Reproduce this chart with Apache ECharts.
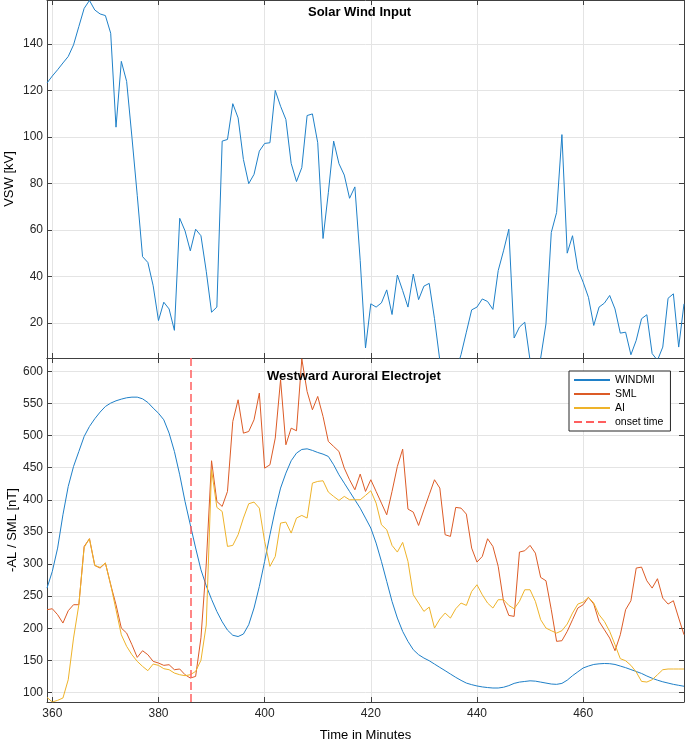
<!DOCTYPE html>
<html><head><meta charset="utf-8">
<script src="https://cdn.jsdelivr.net/npm/echarts@6/dist/echarts.min.js"></script>
<style>html,body{margin:0;padding:0;background:#fff}#c{width:685px;height:744px}</style>
</head><body><div id="c"></div>
<script>
// ---- data ----
const startMinute = 359; // first sample (minutes)
const vsw = [
123.3,126.3,129,131.9,134.7,139.7,147.6,155.4,158.8,154.7,
153,152.3,144.7,104.3,132.6,124,100,75,48.6,46.1,
36.1,21.1,29,26.1,16.9,65.1,59.7,51.1,60.4,57.6,
42.3,24.7,26.9,98.3,99,114.4,108.3,90.4,80,84,
94,97.3,97.6,120.1,113.3,107.6,88.7,80.9,86.9,109.3,
110,97.6,56.4,76.1,98.3,88.6,83.7,73.7,78.6,47,
9.3,28.3,26.9,28.7,34.3,23.7,40.7,34,26.9,41.1,
30.1,35.9,37.1,21.9,4,-2,-4,-1,6.5,16.1,
25.7,26.9,30.4,29.3,25.9,42.6,51.1,60.4,13.6,18.3,
20.4,4,0,5,19.7,59,67.6,101.1,50.1,57.6,
43.3,37.6,31.1,19,26.9,28.6,31.9,26.1,15.7,16.1,
6.4,12.6,21.9,23.6,6.9,4,9.7,30.7,32.6,9.7,
28.3];
const windmi = [
262.5,288.5,324.8,376.7,420.9,452,475.4,498.8,514.3,526.3,
536.7,545.5,550.7,554.3,556.9,559,560,560,557.4,551.7,
542.9,535,524.7,504,475.4,439,397.5,361,325,291,
266,245,226,210,197,189,187,190.9,205.4,231.4,
265.1,304.1,345.6,384.5,418.3,441.6,460.9,472.8,478.5,479.5,
477,473.8,471.2,467.6,454.6,439,426,413,400,387,
371.6,356,332.6,304,272.9,241.7,215.8,195,179.4,166.5,
158.7,153.5,149.3,144.1,138.9,133.8,128.6,123.4,118.7,114.5,
112,110,108.5,107.5,106.8,106.8,108,110.5,114,116,
117,118,117.5,116,114.5,113,112.5,114,119,126,
132,138,141,143.5,144.5,145,144.7,143.5,141,138.5,
135.5,132.5,129.5,125.5,122,119,116.5,114.5,112.5,111,
109.5];
const sml = [
228.8,230.3,221,208,227.2,236.6,236.6,327.4,339.4,297.8,
293.7,301.5,267.7,236.6,200.2,192.4,174.3,154.5,164.9,158.7,
148.3,145.7,142.1,143.1,135.3,136.4,127.5,122.3,124.9,185,
300,460.9,397.5,389.7,413.1,522.1,555.9,503.9,506.5,524.7,
566.3,449.4,454.6,496.2,587,485.8,511.7,507.6,619.7,568.8,
540.3,561.1,529.9,491,483.2,475.4,449.4,431.3,415.7,440.1,
413.1,431.3,413.1,394.9,376.7,413.1,452,479,385.6,380.9,
360.1,384.5,407.9,431.3,418.3,345.6,343,388.2,387.1,377.8,
324.8,303,311.8,339.4,327.4,296.3,241.8,219.9,218.4,318.6,
320.7,329,317,279.1,273.9,228.8,179.5,180.5,195,213.2,
231.4,236.6,248,237.6,210.6,197.6,184.6,164.9,189.8,228.8,
242.8,293.7,295.2,273.9,262.5,277.1,246.9,237.6,242.8,215.8,
189.8];
const ai = [
92.2,85,87.6,91.2,119.7,184.6,236.6,325.9,339.4,297.8,
294.7,301.5,267.7,228.8,189.8,171.7,158.7,148.3,140.5,133.8,
144.1,142.1,136.9,135.3,130.1,127.5,126,127.5,132.7,150,
205,447,388.2,381.9,327.4,329,345.6,371.6,393.9,396.5,
387.1,335.2,296.3,311.8,363.8,365.3,348.2,371.6,375.7,371.6,
426.1,428.7,429.7,412.1,405.3,399.1,405.3,400.1,400.1,400.1,
406.9,414.1,394.9,361.2,353.4,329,318.6,333.7,304.1,252.1,
239.2,226.2,232.9,200.2,214.2,223.6,215.8,230.3,239.2,235.5,
257.3,267.7,252.1,239.2,231.4,244.4,244.4,235.5,230.3,241.8,
259.9,259.9,241.8,213.2,200.2,196.1,192.4,196.1,206.5,223.6,
237.6,240.7,248,239.2,221,210.6,195,174.3,152.5,149.3,
142.1,131.7,117.1,116.1,119.7,127.5,135.3,136.4,136.4,136.4,
136.4];
const onsetTime = 386;
const xTicks = [360, 380, 400, 420, 440, 460];
const vswTicks = [20, 40, 60, 80, 100, 120, 140];
const alTicks = [100, 150, 200, 250, 300, 350, 400, 450, 500, 550, 600];
const xRange = [359, 479];
const vswRange = [5, 159];
const alRange = [85, 621];
const legendNames = ['WINDMI', 'SML', 'AI', 'onset time'];

// ---- build ----
const minutes = vsw.map((_, i) => startMinute + i);
const pair = arr => arr.map((v, i) => [minutes[i], v]);
const FONT = '"Liberation Sans", Arial, Helvetica, sans-serif';
const AXC = '#404040', GRIDC = '#e4e4e4';
const BLUE = '#1f80c8', ORANGE = '#dc5b26', YELLOW = '#eeb32a', RED = '#ff5f5f';

function xAxisCfg(grid, pos, main, labels, name) {
  return {
    type: 'value', gridIndex: grid, position: pos, min: xRange[0], max: xRange[1], splitNumber: 6,
    axisLine: { show: true, onZero: false, lineStyle: { color: AXC, width: 1 } },
    axisTick: { show: true, inside: true, length: 5, customValues: xTicks, lineStyle: { color: AXC } },
    axisLabel: { show: labels, customValues: xTicks, margin: 6, fontSize: 12, color: '#262626', fontFamily: FONT },
    splitLine: { show: main, lineStyle: { color: GRIDC, width: 1 } },
    name: name || '', nameLocation: 'middle', nameGap: 27, nameMoveOverlap: false,
    nameTextStyle: { fontSize: 13, color: '#000', fontFamily: FONT }
  };
}
function yAxisCfg(grid, pos, main, range, ticks, split, name, gap) {
  return {
    type: 'value', gridIndex: grid, position: pos, min: range[0], max: range[1], splitNumber: split,
    axisLine: { show: true, onZero: false, lineStyle: { color: AXC, width: 1 } },
    axisTick: { show: true, inside: true, length: 5, customValues: ticks, lineStyle: { color: AXC } },
    axisLabel: { show: main, customValues: ticks, margin: 4, fontSize: 12, color: '#262626', fontFamily: FONT },
    splitLine: { show: main, lineStyle: { color: GRIDC, width: 1 } },
    name: name || '', nameLocation: 'middle', nameGap: gap || 25, nameMoveOverlap: false,
    nameTextStyle: { fontSize: 13, color: '#000', fontFamily: FONT }
  };
}

const chart = echarts.init(document.getElementById('c'), null, { renderer: 'canvas' });
chart.setOption({
  animation: false,
  backgroundColor: '#fff',
  title: [
    { text: 'Solar Wind Input', left: 308, top: 6, padding: 0,
      textStyle: { fontSize: 13, fontWeight: 'bold', color: '#000', fontFamily: FONT } },
    { text: 'Westward Auroral Electrojet', left: 267, top: 370, padding: 0,
      textStyle: { fontSize: 13, fontWeight: 'bold', color: '#000', fontFamily: FONT } }
  ],
  grid: [
    { left: 47, top: 0, width: 637, height: 358, containLabel: false, outerBoundsMode: 'none' },
    { left: 47, top: 358, width: 637, height: 344, containLabel: false, outerBoundsMode: 'none' }
  ],
  xAxis: [
    xAxisCfg(0, 'bottom', true, false),
    xAxisCfg(0, 'top', false, false),
    xAxisCfg(1, 'bottom', true, true, 'Time in Minutes'),
    xAxisCfg(1, 'top', false, false)
  ],
  yAxis: [
    yAxisCfg(0, 'left', true, vswRange, vswTicks, 8, 'VSW [kV]', 31),
    yAxisCfg(0, 'right', false, vswRange, vswTicks, 8),
    yAxisCfg(1, 'left', true, alRange, alTicks, 11, '-AL / SML [nT]', 28),
    yAxisCfg(1, 'right', false, alRange, alTicks, 11)
  ],
  legend: {
    orient: 'vertical', left: 569, top: 371, padding: [3, 7, 3, 4],
    itemWidth: 36, itemHeight: 10, itemGap: 2,
    borderColor: '#262626', borderWidth: 1, backgroundColor: '#fff',
    itemStyle: { opacity: 0 },
    textStyle: { fontSize: 10.5, lineHeight: 12, color: '#000', fontFamily: FONT },
    data: legendNames
  },
  series: [
    { name: 'VSW', type: 'line', xAxisIndex: 0, yAxisIndex: 0, data: pair(vsw), symbol: 'none',
      lineStyle: { color: BLUE, width: 1 }, itemStyle: { color: BLUE } },
    { name: legendNames[0], type: 'line', xAxisIndex: 2, yAxisIndex: 2, data: pair(windmi), symbol: 'none',
      lineStyle: { color: BLUE, width: 1 }, itemStyle: { color: BLUE } },
    { name: legendNames[1], type: 'line', xAxisIndex: 2, yAxisIndex: 2, data: pair(sml), symbol: 'none',
      lineStyle: { color: ORANGE, width: 1 }, itemStyle: { color: ORANGE } },
    { name: legendNames[2], type: 'line', xAxisIndex: 2, yAxisIndex: 2, data: pair(ai), symbol: 'none',
      lineStyle: { color: YELLOW, width: 1 }, itemStyle: { color: YELLOW } },
    { name: legendNames[3], type: 'line', xAxisIndex: 2, yAxisIndex: 2, data: [], symbol: 'none',
      lineStyle: { color: RED, width: 1.5, type: [8, 4] }, itemStyle: { color: RED },
      markLine: { silent: true, symbol: ['none', 'none'], label: { show: false },
        lineStyle: { color: RED, width: 1.5, type: [8, 4] },
        data: [{ xAxis: onsetTime }] } }
  ]
});
</script>
</body></html>
